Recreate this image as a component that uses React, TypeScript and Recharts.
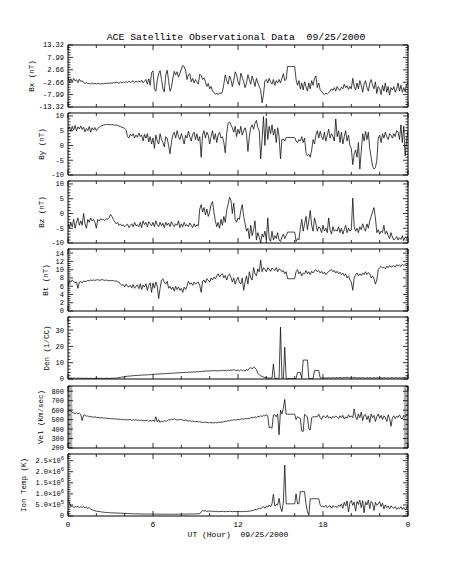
import React from 'react';
import { LineChart, Line, XAxis, YAxis, ReferenceArea } from 'recharts';

const hours = [
  0, 0.1, 0.2, 0.3, 0.4, 0.5, 0.6, 0.7, 0.8, 0.9,
  1, 1.1, 1.2, 1.3, 1.4, 1.5, 1.6, 1.7, 1.8, 1.9,
  2, 2.1, 2.2, 2.3, 2.4, 2.5, 2.6, 2.7, 2.8, 2.9,
  3, 3.1, 3.2, 3.3, 3.4, 3.5, 3.6, 3.7, 3.8, 3.9,
  4, 4.1, 4.2, 4.3, 4.4, 4.5, 4.6, 4.7, 4.8, 4.9,
  5, 5.1, 5.2, 5.3, 5.4, 5.5, 5.6, 5.7, 5.8, 5.9,
  6, 6.1, 6.2, 6.3, 6.4, 6.5, 6.6, 6.7, 6.8, 6.9,
  7, 7.1, 7.2, 7.3, 7.4, 7.5, 7.6, 7.7, 7.8, 7.9,
  8, 8.1, 8.2, 8.3, 8.4, 8.5, 8.6, 8.7, 8.8, 8.9,
  9, 9.1, 9.2, 9.3, 9.4, 9.5, 9.6, 9.7, 9.8, 9.9,
  10, 10.1, 10.2, 10.3, 10.4, 10.5, 10.6, 10.7, 10.8, 10.9,
  11, 11.1, 11.2, 11.3, 11.4, 11.5, 11.6, 11.7, 11.8, 11.9,
  12, 12.1, 12.2, 12.3, 12.4, 12.5, 12.6, 12.7, 12.8, 12.9,
  13, 13.1, 13.2, 13.3, 13.4, 13.5, 13.6, 13.7, 13.8, 13.9,
  14, 14.1, 14.2, 14.3, 14.4, 14.5, 14.6, 14.7, 14.8, 14.9,
  15, 15.1, 15.2, 15.3, 15.4, 15.5, 15.6, 15.7, 15.8, 15.9,
  16, 16.1, 16.2, 16.3, 16.4, 16.5, 16.6, 16.7, 16.8, 16.9,
  17, 17.1, 17.2, 17.3, 17.4, 17.5, 17.6, 17.7, 17.8, 17.9,
  18, 18.1, 18.2, 18.3, 18.4, 18.5, 18.6, 18.7, 18.8, 18.9,
  19, 19.1, 19.2, 19.3, 19.4, 19.5, 19.6, 19.7, 19.8, 19.9,
  20, 20.1, 20.2, 20.3, 20.4, 20.5, 20.6, 20.7, 20.8, 20.9,
  21, 21.1, 21.2, 21.3, 21.4, 21.5, 21.6, 21.7, 21.8, 21.9,
  22, 22.1, 22.2, 22.3, 22.4, 22.5, 22.6, 22.7, 22.8, 22.9,
  23, 23.1, 23.2, 23.3, 23.4, 23.5, 23.6, 23.7, 23.8, 23.9,
  24,
];

const bx = [
  -0.5, -2.8, -1.2, -2.5, -1.0, -2.2, -1.6, -2.8, -1.4, -2.4,
  -2.0, -2.9, -3.2, -2.8, -3.3, -3.1, -3.4, -3.0, -3.3, -3.2,
  -3.4, -3.1, -3.3, -3.5, -3.2, -3.4, -3.1, -3.3, -3.0, -3.2,
  -3.0, -3.1, -2.8, -3.0, -2.7, -2.9, -3.1, -2.6, -2.9, -2.5,
  -2.8, -2.4, -2.9, -2.2, -2.7, -2.5, -2.0, -2.8, -2.3, -2.6,
  -2.1, -2.7, -1.8, -2.9, -2.2, -1.5, -3.5, -1.2, -4.0, 1.5,
  2.2, -5.5, -6.5, -2.0, 1.0, 2.3, -1.5, -5.5, -6.8, 0.5,
  2.5, -2.0, -6.5, -5.0, -1.0, 2.0, 0.5, 1.8, -0.5, 1.2,
  3.0, 4.5, 4.0, 2.5, -1.5, 0.5, 1.0, -2.5, -1.0, -3.0,
  -1.5, -2.5, -3.5, 0.8, 0.2, -1.5, -0.8, -2.5, -4.5, -3.2,
  -5.5, -4.5, -6.5, -7.0, -7.8, -7.4, -8.0, -7.2, -7.6, -6.8,
  -3.5, 0.5, -2.0, -3.5, 0.0, -1.5, -4.5, -2.0, 1.8, 0.5,
  -2.5, -4.0, 1.2, -0.5, -2.5, -5.0, -3.0, 0.5, -1.5, -3.5,
  0.0, -2.0, -4.5, -1.0, -3.0, -4.5, -6.0, -11.5, -8.0, -2.0,
  -1.5, -3.0, -1.0, -2.5, -3.5, -1.5, -4.0, -2.0, -3.0, -1.5,
  -3.0, -1.0, 1.0, -2.0, -1.5, 4.1, 4.1, 4.1, 4.1, 4.1,
  4.1, -1.5, -4.0, -2.0, -5.5, -3.0, -6.0, -2.5, -4.5, -6.5,
  -3.0, -5.5, -2.0, -4.0, -1.0, 0.0, -5.0, -3.0, -6.0, -6.5,
  -7.5, -8.0, -7.4, -7.8, -7.2, -6.5, -5.5, -6.2, -5.0, -6.5,
  -4.5, -5.8, -6.2, -4.8, -5.5, -3.5, -5.0, -4.2, -5.8, -4.5,
  -5.5, -1.0, -4.5, -6.0, -3.0, -5.5, -2.0, -4.0, -7.0, -3.5,
  -2.0, -5.0, -6.5, -3.0, -1.5, -4.0, -5.5, -2.5, -7.5, -4.5,
  -5.5, -8.0, -4.0, -6.5, -3.0, -7.0, -4.5, -8.2, -5.0, -6.0,
  -4.5, -7.0, -5.5, -3.0, -6.5, -4.0, -7.0, -5.0, -6.8, -3.5,
  -3.0,
];

const by = [
  5.5, 6.3, 4.8, 6.5, 5.2, 6.8, 5.0, 6.3, 5.6, 6.6,
  5.4, 6.2, 4.6, 5.8, 5.0, 6.4, 4.5, 6.0, 5.2, 6.1,
  5.0, 5.8, 6.2, 6.5, 6.7, 6.9, 7.0, 7.1, 7.1, 7.1,
  7.0, 7.1, 7.0, 6.9, 6.9, 6.8, 6.6, 6.4, 6.2, 6.0,
  5.8, 5.3, 3.0, 2.5, 3.8, 3.2, 4.0, 2.6, 3.5, 2.8,
  4.2, 3.0, 3.6, 1.5, 3.8, 2.5, 4.0, 1.2, 3.0, 0.5,
  2.5, -1.0, 3.5, 1.5, 0.5, 4.0, 2.0, 1.0, -0.5, 3.0,
  2.5, 0.0, -2.8, 1.0, 3.5, 4.5, 2.5, 5.0, 3.0, 2.0,
  4.0, 2.5, 0.5, 3.5, 2.5, 4.8, 3.0, 1.5, 3.8, 4.5,
  2.0, 4.0, 1.5, 3.0, -4.0, 3.5, 5.0, 2.5, 4.5, 3.5,
  0.5, 3.0, 5.0, 2.0, 4.0, 1.0, 3.5, 4.5, 2.5, 3.0,
  1.0, -2.5, 4.0, 7.5, 8.0, 7.0, 6.0, 4.5, 6.5, 3.0,
  5.5, 4.0, 6.5, 3.5, 5.0, 6.0, 4.0, -2.0, 3.0, 6.0,
  7.0, 5.5, 7.5, 8.5, 6.0, 5.0, -4.5, 2.0, 9.8, 0.0,
  9.2, 2.0, 6.5, 4.0, 7.0, 3.5, 5.5, 1.0, 6.0, 3.0,
  -4.5, 2.0, 2.2, 1.5, 2.7, 2.7, 2.7, 2.7, 2.7, 2.7,
  2.7, 1.5, 1.0, 2.0, 1.5, 3.0, 1.0, 2.5, -2.5, -3.5,
  -3.0, -4.0, -1.5, 2.0, 0.5, 3.5, 5.0, 2.5, 4.8, 3.0,
  2.0, 4.5, 1.5, 3.5, 5.5, 2.5, 4.0, 3.0, 1.5, 9.0,
  3.0, 5.0, 1.0, 4.5, 0.5, 3.0, 5.0, 1.5, 3.5, 0.0,
  -1.0, -6.5, -3.0, -1.5, -4.0, 1.0, -8.0, -2.0, 4.0, 1.5,
  4.8, 2.0, 4.5, -1.0, -4.0, -7.0, -8.0, -7.5, -5.0, 2.5,
  3.5, 1.0, 4.0, 2.5, 4.5, 3.0, 2.0, 4.0, 3.5, 2.5,
  4.0, 3.0, 5.0, 4.5, 2.0, 7.0, 1.0, 6.5, -3.5, 2.0,
  5.0,
];

const bz = [
  -3.5, -5.0, -3.0, -4.5, -2.0, -5.0, -3.0, -1.5, -4.0, -2.5,
  -4.0, 0.0, -3.5, -5.0, -2.0, -3.0, -1.5, -2.5, -2.0, -3.0,
  -5.0, -2.0, -2.5, -1.8, -2.2, -2.0, -2.4, -1.8, -2.0, -1.5,
  -0.3, -1.0, -2.0, -2.8, -3.5, -3.0, -4.0, -3.6, -4.2, -3.8,
  -4.5, -4.0, -3.6, -4.8, -4.0, -3.5, -4.5, -3.0, -4.2, -3.8,
  -4.5, -3.0, -4.8, -2.5, -3.8, -3.0, -4.5, -2.8, -3.5, -4.2,
  -3.0, -4.5, -2.5, -3.8, -4.5, -3.0, -4.2, -3.3, -4.8, -3.0,
  -4.0, -3.2, -4.5, -2.8, -3.8, -4.5, -3.5, -4.0, -2.5, -4.8,
  -3.5, -4.5, -3.0, -4.2, -3.8, -4.5, -3.2, -4.0, -4.8, -3.5,
  -4.5, -3.8, -4.2, 1.5, 3.0, 0.5, 2.0, -0.5, 1.5, -1.0,
  0.5, 3.0, 4.0, 0.5, -2.5, -4.5, -3.0, -5.0, -2.0, -4.0,
  -1.0, -3.0, 1.0, 3.0, 5.5, 4.5, 0.0, 3.5, -2.0, -3.0,
  -1.5, -2.0, 1.0, 3.0, -1.0, -3.5, -6.0, -5.0, -8.5, -4.0,
  -7.5, -5.5, -2.5, -9.0, -6.5, -8.0, -10.0, -7.0, -8.0, -6.0,
  -9.0, -1.5, -8.5, -9.5, -6.0, -9.0, -7.5, -8.5, -6.5, -9.0,
  -9.5, -8.0, -7.0, -8.5, -7.5, -6.3, -6.3, -6.3, -6.3, -6.3,
  -6.3, -9.5, -8.5, -9.0, -5.0, -2.0, -6.0, -3.5, -1.0, -5.5,
  -2.5, 1.0, -4.0, -6.0, -1.5, -3.5, -6.0, -4.5, -5.0, -6.5,
  -4.0, -6.0, -5.0, -6.5, -1.5, -5.5, -7.0, -4.5, -6.0, -5.5,
  -6.0, -4.5, -6.5, -5.0, -7.0, -5.5, -4.0, -6.5, -5.0, -6.0,
  -5.5, 5.2, -4.5, -6.0, -5.0, -6.5, -4.5, -5.5, -3.5, -5.0,
  -6.0, -3.5, -5.0, -2.5, -1.0, 0.5, 2.0, -1.5, -6.5, -5.5,
  -7.0, -6.0, -6.5, -4.0, -7.0, -6.0, -7.5, -8.5, -6.5, -8.0,
  -9.0, -8.5, -7.8, -9.0, -8.2, -8.8, -7.5, -9.2, -8.0, -8.5,
  -7.5,
];

const bt = [
  6.0, 7.3, 7.0, 7.5, 7.2, 6.8, 7.0, 5.5, 7.0, 7.2,
  6.8, 7.3, 7.1, 7.2, 7.4, 7.3, 7.5, 7.4, 7.5, 7.4,
  7.5, 7.6, 7.4, 7.5, 7.6, 7.5, 7.4, 7.5, 7.4, 7.3,
  7.4, 7.3, 7.4, 7.2, 7.3, 7.1, 7.0, 6.5, 6.2, 6.4,
  5.8, 6.5, 6.0, 5.8, 6.2, 5.6, 6.4, 5.5, 6.0, 6.3,
  5.4, 6.6, 5.2, 6.3, 5.8, 6.6, 5.0, 6.2, 6.8, 4.5,
  6.8, 5.5, 7.0, 6.0, 3.0, 5.5, 7.5, 7.8, 7.0, 6.5,
  7.2, 5.5, 6.0, 5.2, 5.8, 4.8, 6.0, 5.2, 5.8, 5.0,
  5.5, 4.5, 5.8, 5.2, 6.0, 7.2, 6.5, 6.8, 6.2, 7.0,
  6.5, 6.8, 7.0, 6.2, 4.5, 7.2, 7.5, 6.8, 7.8, 7.5,
  7.0, 8.0, 7.5, 8.2, 7.8, 8.5, 9.0, 8.2, 8.8, 9.0,
  8.0, 8.6, 7.5, 8.5, 9.0, 8.2, 7.0, 8.0, 6.5, 7.5,
  8.2, 7.0, 6.5, 8.0, 5.0, 7.0, 8.5, 6.5, 9.5, 8.0,
  7.5, 10.5, 9.0, 8.5, 10.2, 9.5, 12.3, 9.5, 10.5, 10.0,
  9.5, 10.5, 10.2, 9.6, 10.4, 10.0, 9.8, 10.5, 9.5, 10.2,
  10.0, 9.5, 9.8, 9.0, 9.5, 7.8, 7.8, 7.8, 7.8, 7.8,
  7.8, 9.5, 10.0, 9.0, 9.5, 8.5, 9.2, 9.0, 9.8, 9.0,
  9.5, 8.8, 9.6, 9.2, 9.8, 10.0, 9.5, 9.8, 9.2, 9.6,
  9.0, 9.4, 8.8, 9.2, 9.6, 9.8, 10.0, 9.5, 9.8, 9.2,
  9.6, 9.0, 9.4, 8.8, 9.2, 8.5, 9.0, 8.0, 8.5, 7.5,
  7.0, 5.0, 8.0, 8.8, 9.2, 8.5, 9.0, 8.6, 9.2, 8.8,
  9.5, 8.8, 9.3, 9.0, 8.0, 8.5, 7.8, 6.5, 7.5, 10.0,
  10.5, 10.8, 10.4, 10.6, 10.2, 10.8, 10.5, 11.0, 10.6, 10.8,
  11.0, 10.6, 11.2, 10.9, 11.1, 10.8, 11.3, 11.0, 11.2, 11.1,
  11.2,
];

const den = [
  0.8, 0.5, 0.7, 0.4, 0.6, 0.5, 0.3, 0.6, 0.5, 0.4,
  0.5, 0.3, 0.4, 0.5, 0.4, 0.3, 0.5, 0.4, 0.3, 0.5,
  0.4, 0.5, 0.3, 0.4, 0.5, 0.3, 0.4, 0.5, 0.4, 0.3,
  0.4, 0.5, 0.4, 0.6, 0.5, 0.7, 0.8, 1.0, 1.2, 1.3,
  1.5, 1.6, 1.7, 1.8, 1.8, 2.0, 2.0, 2.1, 2.2, 2.1,
  2.3, 2.2, 2.4, 2.5, 2.4, 2.6, 2.5, 2.7, 2.6, 2.8,
  2.9, 2.8, 3.0, 3.1, 3.0, 3.2, 3.1, 3.3, 3.2, 3.4,
  3.3, 3.5, 3.4, 3.6, 3.5, 3.7, 3.6, 3.8, 3.7, 3.9,
  3.8, 4.0, 3.9, 4.1, 4.0, 4.2, 4.1, 4.3, 4.2, 4.4,
  4.3, 4.5, 4.4, 4.6, 4.5, 4.8, 4.7, 4.9, 4.8, 5.0,
  4.9, 5.1, 5.0, 5.2, 5.0, 5.1, 4.9, 5.2, 5.0, 5.3,
  5.1, 5.4, 5.0, 5.5, 5.2, 5.6, 5.3, 5.8, 5.4, 5.2,
  5.6, 4.9, 5.7, 5.0, 5.5, 4.8, 5.9, 5.3, 6.5, 7.0,
  6.2, 7.2, 6.8, 5.8, 3.5, 2.5, 2.0, 1.5, 1.2, 1.0,
  0.8, 0.6, 0.5, 0.7, 0.4, 9.2, 0.5, 0.3, 0.5, 0.4,
  31.8, 0.5, 0.4, 19.4, 0.4, 0.3, 0.3, 0.3, 0.3, 0.3,
  0.3, 0.3, 4.0, 4.0, 4.0, 0.3, 11.6, 11.6, 11.6, 11.6,
  0.3, 0.3, 0.3, 0.3, 5.2, 5.2, 5.2, 5.2, 0.8, 0.6,
  0.8, 0.5, 0.7, 0.6, 0.9, 0.5, 0.7, 0.8, 0.6, 0.7,
  0.9, 0.6, 1.0, 0.8, 0.6, 0.9, 0.7, 1.1, 0.8, 0.6,
  0.9, 0.7, 1.0, 0.8, 0.5, 0.9, 0.7, 0.6, 0.8, 0.7,
  0.5, 0.9, 0.6, 0.8, 0.7, 0.5, 0.9, 0.6, 0.8, 0.7,
  0.6, 0.8, 0.5, 0.9, 0.7, 0.6, 0.8, 0.5, 0.7, 0.9,
  0.6, 0.8, 0.7, 0.5, 0.9, 0.6, 0.8, 0.7, 1.0, 0.8,
  1.5,
];

const vel = [
  580, 600, 590, 575, 570, 565, 572, 560, 568, 555,
  490, 545, 550, 535, 540, 530, 532, 528, 525, 530,
  522, 525, 520, 518, 522, 515, 518, 512, 515, 510,
  512, 508, 510, 505, 508, 503, 506, 500, 504, 498,
  502, 495, 500, 497, 503, 492, 498, 494, 500, 490,
  496, 488, 495, 485, 492, 488, 495, 482, 490, 486,
  492, 480, 530, 475, 500, 470, 485, 478, 490, 482,
  485, 500, 495, 505, 498, 510, 500, 495, 502, 498,
  500, 495, 490, 498, 488, 485, 490, 482, 485, 480,
  478, 482, 475, 478, 472, 470, 474, 468, 472, 466,
  470, 465, 468, 464, 470, 466, 472, 470, 475, 472,
  478, 482, 480, 490, 485, 495, 492, 500, 495, 498,
  502, 500, 505, 508, 503, 512, 508, 515, 510, 520,
  525, 518, 530, 522, 535, 528, 540, 532, 545, 538,
  550, 540, 415, 420, 410, 548, 552, 530, 560, 340,
  600, 560, 620, 713, 557, 557, 557, 557, 557, 557,
  557, 500, 530, 520, 510, 380, 375, 557, 540, 530,
  400, 390, 520, 530, 530, 530, 530, 557, 520, 500,
  540, 530, 520, 545, 515, 530, 510, 535, 520, 540,
  525, 510, 540, 520, 545, 505, 530, 515, 550, 525,
  540, 520, 611, 530, 500, 560, 520, 580, 490, 545,
  555, 500, 540, 470, 560, 520, 545, 480, 530, 560,
  515, 545, 500, 540, 520, 480, 550, 510, 430, 520,
  540, 510, 535, 525, 550, 520, 505, 545, 530, 550,
  560,
];

const temp = [
  750000, 600000, 420000, 460000, 380000, 430000, 400000, 440000, 370000, 420000,
  390000, 430000, 360000, 400000, 350000, 380000, 320000, 280000, 260000, 230000,
  220000, 210000, 200000, 190000, 180000, 175000, 165000, 160000, 155000, 150000,
  145000, 140000, 142000, 135000, 138000, 130000, 128000, 125000, 122000, 120000,
  118000, 115000, 112000, 110000, 108000, 105000, 102000, 100000, 98000, 96000,
  95000, 92000, 94000, 90000, 88000, 91000, 86000, 89000, 85000, 87000,
  84000, 86000, 82000, 85000, 80000, 83000, 81000, 84000, 79000, 82000,
  80000, 83000, 78000, 82000, 80000, 84000, 79000, 82000, 80000, 85000,
  82000, 86000, 84000, 88000, 85000, 90000, 87000, 92000, 90000, 95000,
  92000, 98000, 100000, 105000, 180000, 250000, 220000, 240000, 200000, 230000,
  210000, 225000, 200000, 215000, 195000, 210000, 190000, 205000, 200000, 215000,
  205000, 195000, 210000, 200000, 220000, 205000, 195000, 210000, 200000, 205000,
  200000, 210000, 195000, 205000, 200000, 215000, 205000, 210000, 220000, 230000,
  240000, 260000, 300000, 280000, 320000, 350000, 330000, 380000, 420000, 350000,
  450000, 400000, 500000, 420000, 550000, 980000, 450000, 520000, 500000, 800000,
  380000, 200000, 600000, 2300000, 550000, 550000, 550000, 550000, 550000, 550000,
  550000, 1000000, 550000, 550000, 1100000, 1100000, 1100000, 1100000, 550000, 200000,
  30000, 780000, 780000, 780000, 780000, 780000, 780000, 780000, 500000, 420000,
  450000, 400000, 480000, 380000, 430000, 460000, 350000, 470000, 410000, 440000,
  380000, 500000, 430000, 550000, 350000, 620000, 450000, 680000, 180000, 600000,
  700000, 480000, 620000, 220000, 660000, 520000, 720000, 380000, 690000, 150000,
  640000, 500000, 720000, 330000, 660000, 580000, 250000, 620000, 480000, 540000,
  650000, 420000, 580000, 320000, 500000, 380000, 450000, 320000, 460000, 380000,
  350000, 420000, 300000, 380000, 330000, 420000, 300000, 380000, 280000, 350000,
  500000,
];

const xMajor = [0, 6, 12, 18, 24];
const xTicks = [0, 2, 4, 6, 8, 10, 12, 14, 16, 18, 20, 22, 24];

const bxMajor = [-13.32, -7.99, -2.66, 2.66, 7.99, 13.32];
const byMajor = [-10, -5, 0, 5, 10];
const bzMajor = [-10, -5, 0, 5, 10];
const btMajor = [0, 2, 4, 6, 8, 10, 12, 14];
const denMajor = [0, 10, 20, 30];
const velMajor = [200, 300, 400, 500, 600, 700, 800];
const tempMajor = [0, 500000, 1000000, 1500000, 2000000, 2500000];

const FONT = '"Liberation Mono", "DejaVu Sans Mono", monospace';
const PLOT_LEFT = 68;
const PLOT_RIGHT = 408;
const W = 454;
const PH = 62;
const MT = 8;
const MB = 16;

function minorTicks(start: number, step: number, end: number) {
  const out: number[] = [];
  for (let k = 0; start + k * step <= end + step * 1e-6; k++) {
    out.push(+(start + k * step).toFixed(6));
  }
  return out;
}

function fmtTemp(v: number) {
  if (v === 0) return <tspan>0</tspan>;
  const e = Math.floor(Math.log10(v) + 1e-9);
  const m = v / Math.pow(10, e);
  return (
    <>
      <tspan>{m.toFixed(1)}×10</tspan>
      <tspan dy={-3} fontSize={5.5}>{e}</tspan>
    </>
  );
}

type PanelCfg = {
  label: string;
  labelX: number;
  top: number;
  values: number[];
  domain: [number, number];
  majors: number[];
  ticks: number[];
  fmt: (v: number) => React.ReactNode;
  bands?: boolean;
  xLabels?: boolean;
};

const panels: PanelCfg[] = [
  { label: 'Bx (nT)', labelX: 31, top: 45, values: bx, domain: [-13.32, 13.32], majors: bxMajor,
    ticks: minorTicks(-13.32, 1.0656, 13.32), fmt: (v) => v.toFixed(2) },
  { label: 'By (nT)', labelX: 41, top: 113, values: by, domain: [-10, 11], majors: byMajor,
    ticks: minorTicks(-10, 1, 11), fmt: (v) => String(v) },
  { label: 'Bz (nT)', labelX: 41, top: 181, values: bz, domain: [-10, 11], majors: bzMajor,
    ticks: minorTicks(-10, 1, 11), fmt: (v) => String(v) },
  { label: 'Bt (nT)', labelX: 45, top: 249, values: bt, domain: [0, 15], majors: btMajor,
    ticks: minorTicks(0, 0.5, 15), fmt: (v) => String(v) },
  { label: 'Den (1/CC)', labelX: 46, top: 317, values: den, domain: [0, 38], majors: denMajor,
    ticks: minorTicks(0, 2, 38), fmt: (v) => String(v) },
  { label: 'Vel (Km/sec)', labelX: 40, top: 386, values: vel, domain: [200, 855], majors: velMajor,
    ticks: minorTicks(200, 50, 850), fmt: (v) => String(v), bands: true },
  { label: 'Ion Temp (K)', labelX: 23, top: 454, values: temp, domain: [0, 2800000], majors: tempMajor,
    ticks: minorTicks(0, 100000, 2800000), fmt: fmtTemp, xLabels: true },
];

function isMajor(majors: number[], v: number, tol: number) {
  return majors.some((m) => Math.abs(m - v) < tol);
}

function Panel({ cfg }: { cfg: PanelCfg }) {
  const data = hours.map((h, i) => ({ h, v: cfg.values[i] }));
  const tol = (cfg.domain[1] - cfg.domain[0]) * 0.002;
  const yTickL = (p: any) => {
    const major = isMajor(cfg.majors, p.payload.value, tol);
    return (
      <g>
        <line x1={p.x} y1={p.y} x2={p.x + (major ? 5 : 2.5)} y2={p.y} stroke="#000" strokeWidth={0.8} />
        {major && (
          <text x={p.x - 4} y={p.y} dy="0.35em" textAnchor="end" fontSize={7} fontFamily={FONT} fill="#000">
            {cfg.fmt(p.payload.value)}
          </text>
        )}
      </g>
    );
  };
  const yTickR = (p: any) => {
    const major = isMajor(cfg.majors, p.payload.value, tol);
    return <line x1={p.x} y1={p.y} x2={p.x - (major ? 5 : 2.5)} y2={p.y} stroke="#000" strokeWidth={0.8} />;
  };
  const xTickB = (p: any) => {
    const v = p.payload.value;
    const major = xMajor.includes(v);
    return (
      <g>
        <line x1={p.x} y1={p.y} x2={p.x} y2={p.y - (major ? 5 : 3)} stroke="#000" strokeWidth={0.8} />
        {cfg.xLabels && major && (
          <text x={p.x} y={p.y + 8} dy="0.35em" textAnchor="middle" fontSize={8} fontFamily={FONT} fill="#000">
            {String(v % 24)}
          </text>
        )}
      </g>
    );
  };
  const xTickT = (p: any) => {
    const v = p.payload.value;
    const major = xMajor.includes(v);
    return <line x1={p.x} y1={p.y} x2={p.x} y2={p.y + (major ? 5 : 3)} stroke="#000" strokeWidth={0.8} />;
  };
  return (
    <div style={{ position: 'absolute', left: 0, top: cfg.top - MT }}>
      <LineChart width={W} height={MT + PH + MB} data={data}
        margin={{ top: MT - 1, right: W - PLOT_RIGHT - 1, bottom: MB - 1, left: 0 }}>
        <XAxis dataKey="h" type="number" domain={[0, 24]} ticks={xTicks} interval={0}
          height={1} tickSize={0} tickMargin={0} tickLine={false} tick={xTickB}
          axisLine={{ stroke: '#000', strokeWidth: 1 }} allowDataOverflow />
        <XAxis xAxisId="top" orientation="top" dataKey="h" type="number" domain={[0, 24]} ticks={xTicks}
          interval={0} height={1} tickSize={0} tickMargin={0} tickLine={false} tick={xTickT}
          axisLine={{ stroke: '#000', strokeWidth: 1 }} allowDataOverflow />
        <YAxis type="number" domain={cfg.domain} ticks={cfg.ticks} interval={0} width={PLOT_LEFT}
          tickSize={0} tickMargin={0} tickLine={false} tick={yTickL}
          axisLine={{ stroke: '#000', strokeWidth: 1 }} allowDataOverflow />
        <YAxis yAxisId="r" orientation="right" type="number" domain={cfg.domain} ticks={cfg.ticks} interval={0}
          width={1} tickSize={0} tickMargin={0} tickLine={false} tick={yTickR}
          axisLine={{ stroke: '#000', strokeWidth: 1 }} allowDataOverflow />
        {cfg.bands && (
          <ReferenceArea x1={0.001} x2={0.3} y1={cfg.domain[0]} y2={cfg.domain[1]} fill="#b4b4b4" fillOpacity={1} stroke="none" />
        )}
        {cfg.bands && (
          <ReferenceArea x1={23.7} x2={24} y1={cfg.domain[0]} y2={cfg.domain[1]} fill="#b4b4b4" fillOpacity={1} stroke="none" />
        )}
        <Line type="linear" dataKey="v" stroke="#111" strokeWidth={0.8} dot={false} isAnimationActive={false} />
      </LineChart>
    </div>
  );
}

export default function App() {
  return (
    <div style={{ position: 'absolute', left: 0, top: 0, width: W, height: 567, background: '#fff', overflow: 'hidden' }}>
      {panels.map((p) => (
        <Panel key={p.label} cfg={p} />
      ))}
      <svg width={W} height={567} style={{ position: 'absolute', left: 0, top: 0, pointerEvents: 'none' }}>
        <text x={236} y={37} dy="0.35em" textAnchor="middle" fontSize={9.8} fontFamily={FONT} fill="#000"
          style={{ whiteSpace: 'pre' }}>
          {'ACE Satellite Observational Data  09/25/2000'}
        </text>
        {panels.map((p) => (
          <text key={p.label} transform={`translate(${p.labelX},${p.top + PH / 2}) rotate(-90)`} dy="0.35em"
            textAnchor="middle" fontSize={7.5} fontFamily={FONT} fill="#000" style={{ whiteSpace: 'pre' }}>
            {p.label}
          </text>
        ))}
        <text x={238} y={534} dy="0.35em" textAnchor="middle" fontSize={8} fontFamily={FONT} fill="#000"
          style={{ whiteSpace: 'pre' }}>
          {'UT (Hour)  09/25/2000'}
        </text>
      </svg>
    </div>
  );
}
